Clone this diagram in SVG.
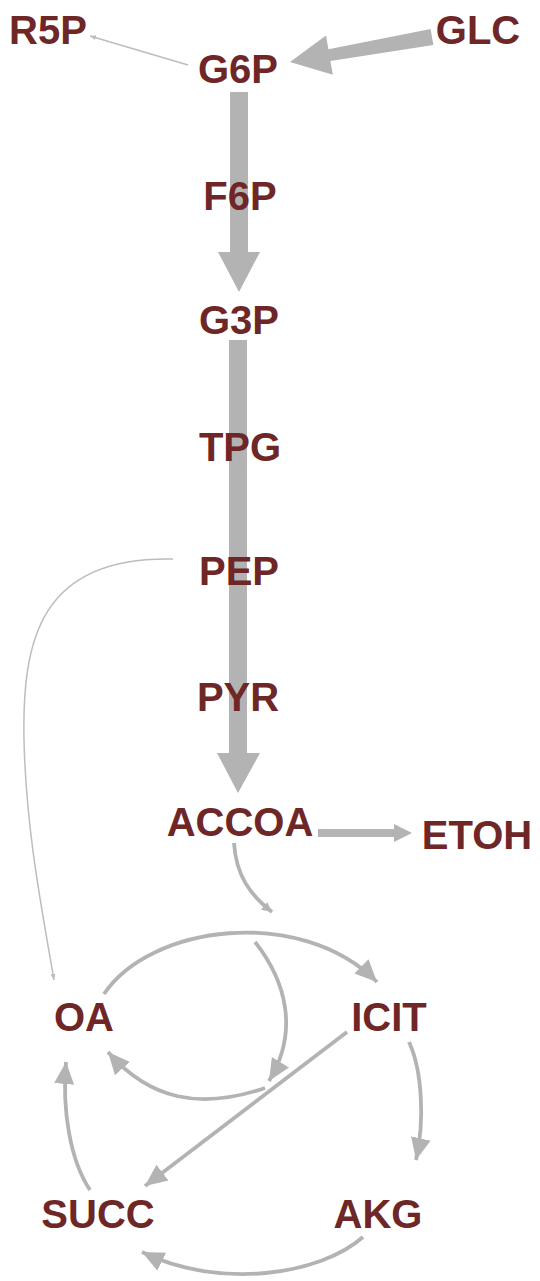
<svg xmlns="http://www.w3.org/2000/svg" width="540" height="1281" viewBox="0 0 540 1281">
<style>
.lbl{font-family:"Liberation Sans",Arial,sans-serif;font-weight:bold;font-size:40px;fill:#6e2626;text-anchor:middle}
.c{fill:none;stroke:#b3b3b3;stroke-width:3.8}
.thin{fill:none;stroke:#bdbdbd;stroke-width:1.5}
.fat{fill:#b3b3b3;stroke:none}
</style>
<defs>
<marker id="big" markerUnits="userSpaceOnUse" markerWidth="24" markerHeight="22" refX="22" refY="11" orient="auto">
<path d="M0,1 L22,11 L0,21 z" fill="#b3b3b3"/>
</marker>
<marker id="small" markerUnits="userSpaceOnUse" markerWidth="12" markerHeight="12" refX="10" refY="6" orient="auto">
<path d="M0,1 L10,6 L0,11 z" fill="#b3b3b3"/>
</marker>
<marker id="tiny" markerUnits="userSpaceOnUse" markerWidth="7" markerHeight="7" refX="6" refY="3.5" orient="auto">
<path d="M0,1 L6,3.5 L0,6 z" fill="#bdbdbd"/>
</marker>
</defs>
<rect width="540" height="1281" fill="#ffffff"/>
<g id="connectors">
<polygon class="fat" points="430.6,29.1 433.4,45 330.4,61 332.9,74.8 290,62 326,35.4 328.4,49.2"/>
<path class="thin" d="M188,65 L90,36" marker-end="url(#tiny)"/>
<rect class="fat" x="230" y="92" width="18" height="162"/>
<polygon class="fat" points="218,252 260,252 239,292"/>
<rect class="fat" x="229" y="340" width="18" height="415"/>
<polygon class="fat" points="217,753 260,753 238,793"/>
<rect class="fat" x="318" y="829" width="78" height="8"/>
<polygon class="fat" points="394,824 394,842 412,833"/>
<path class="thin" d="M173,559 C40,556 22,640 24,740 C26,830 42,910 54,980" marker-end="url(#tiny)"/>
<path class="c" d="M234,843 C236,875 250,895 272,912" marker-end="url(#small)"/>
<path class="c" d="M104,994 C150,925 300,905 377,982" marker-end="url(#big)"/>
<path class="c" d="M255,942 C285,980 300,1030 269,1081" marker-end="url(#big)"/>
<path class="c" d="M347,1032 L145,1186" marker-end="url(#big)"/>
<path class="c" d="M265,1088 C200,1110 150,1100 108,1052" marker-end="url(#big)"/>
<path class="c" d="M409,1042 C422,1070 425,1120 416,1160" marker-end="url(#big)"/>
<path class="c" d="M363,1237 C320,1275 220,1290 142,1252" marker-end="url(#big)"/>
<path class="c" d="M90,1190 C70,1160 62,1110 66,1062" marker-end="url(#big)"/>
</g>
<g id="R5P"><text class="lbl" x="48" y="44">R5P</text></g>
<g id="G6P"><text class="lbl" x="238" y="83">G6P</text></g>
<g id="GLC"><text class="lbl" x="478" y="44">GLC</text></g>
<g id="F6P"><text class="lbl" x="240" y="210">F6P</text></g>
<g id="G3P"><text class="lbl" x="239" y="334">G3P</text></g>
<g id="TPG"><text class="lbl" x="240" y="461">TPG</text></g>
<g id="PEP"><text class="lbl" x="239" y="585">PEP</text></g>
<g id="PYR"><text class="lbl" x="238" y="711">PYR</text></g>
<g id="ACCOA"><text class="lbl" x="240" y="836">ACCOA</text></g>
<g id="ETOH"><text class="lbl" x="477" y="849">ETOH</text></g>
<g id="OA"><text class="lbl" x="84" y="1031">OA</text></g>
<g id="ICIT"><text class="lbl" x="389" y="1031">ICIT</text></g>
<g id="SUCC"><text class="lbl" x="98" y="1228">SUCC</text></g>
<g id="AKG"><text class="lbl" x="378" y="1228">AKG</text></g>
</svg>
